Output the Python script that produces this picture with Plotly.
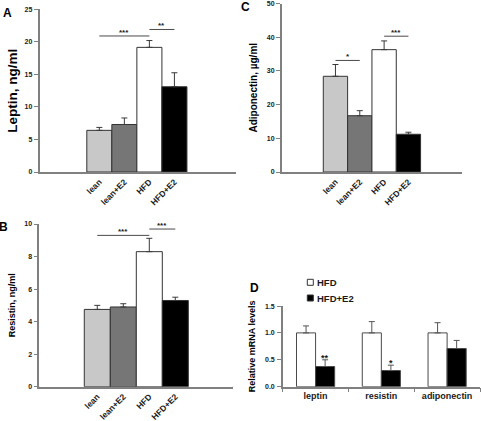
import plotly.graph_objects as go

W, H = 481, 421

# ---------------- data ----------------
groups = ["lean", "lean+E2", "HFD", "HFD+E2"]
group_colors = ["#c8c8c8", "#767676", "#ffffff", "#000000"]

leptin = [6.4, 7.3, 19.15, 13.1]
leptin_err = [0.45, 1.0, 1.05, 2.15]
resistin = [4.75, 4.9, 8.3, 5.3]
resistin_err = [0.25, 0.2, 0.82, 0.2]
adiponectin = [28.4, 16.7, 36.3, 11.2]
adiponectin_err = [3.5, 1.5, 2.6, 0.6]

genes = ["leptin", "resistin", "adiponectin"]
mrna_hfd = [1.0, 1.0, 1.0]
mrna_hfd_err = [0.13, 0.21, 0.19]
mrna_e2 = [0.375, 0.30, 0.71]
mrna_e2_err = [0.125, 0.10, 0.15]
mrna_sig = ["**", "*", ""]
mrna_ticks = [0.0, 0.5, 1.0, 1.5]

# significance brackets: (from group index, to group index, height, label)
sig_A = [(0, 2, 20.9, "***"), (2, 3, 21.9, "**")]
sig_B = [(0, 2, 9.3, "***"), (2, 3, 9.69, "***")]
sig_C = [(0, 1, 33.1, "*"), (2, 3, 40.3, "***")]

FONT = "Arial, Liberation Sans, sans-serif"
AX = "#808080"
TXT = "#1a1a1a"


def px_x(a, b):
    return [a / W, b / W]


def px_y(top, bottom):
    return [(H - bottom) / H, (H - top) / H]


fig = go.Figure()

panels = [
    ("A", leptin, leptin_err, "x", "y", sig_A),
    ("B", resistin, resistin_err, "x2", "y2", sig_B),
    ("C", adiponectin, adiponectin_err, "x3", "y3", sig_C),
]

for name, vals, errs, xa, ya, sig in panels:
    fig.add_trace(go.Bar(
        x=groups, y=vals, width=1,
        marker=dict(color=group_colors, line=dict(color="#333333", width=1)),
        error_y=dict(type="data", array=errs, arrayminus=[0] * len(errs),
                     symmetric=False, color="#3a3a3a", thickness=1, width=3),
        xaxis=xa, yaxis=ya, showlegend=False,
    ))
    for i0, i1, yv, lab in sig:
        fig.add_shape(type="line", xref=xa, yref=ya, x0=i0, x1=i1, y0=yv, y1=yv,
                      line=dict(color="#4a4a4a", width=1))
        fig.add_annotation(xref=xa, yref=ya, x=(i0 + i1) / 2, y=yv, text=lab,
                           showarrow=False, yanchor="bottom", yshift=-3,
                           font=dict(family=FONT, size=8, color=TXT, weight="bold"))
    for xd in (0, 1):
        fig.add_shape(type="line", xref=xa + " domain", yref=ya, x0=xd, x1=xd,
                      ysizemode="pixel", yanchor=0, y0=0, y1=-4,
                      line=dict(color=AX, width=1.5))

# panel D
bargap = 0.42
half = (1 - bargap) / 4
fig.add_trace(go.Bar(
    x=genes, y=mrna_hfd, name="HFD",
    marker=dict(color="#ffffff", line=dict(color="#4a4a4a", width=1)),
    error_y=dict(type="data", array=mrna_hfd_err, arrayminus=[0] * 3,
                 symmetric=False, color="#555555", thickness=1, width=3),
    xaxis="x4", yaxis="y4", showlegend=False,
))
fig.add_trace(go.Bar(
    x=genes, y=mrna_e2, name="HFD+E2",
    marker=dict(color="#000000", line=dict(color="#4a4a4a", width=1)),
    error_y=dict(type="data", array=mrna_e2_err, arrayminus=[0] * 3,
                 symmetric=False, color="#555555", thickness=1, width=3),
    xaxis="x4", yaxis="y4", showlegend=False,
))
for i, lab in enumerate(mrna_sig):
    if lab:
        fig.add_annotation(xref="x4", yref="y4", x=i + half, y=mrna_e2[i] + mrna_e2_err[i],
                           text=lab, showarrow=False, yanchor="bottom", yshift=-5,
                           font=dict(family=FONT, size=9, color=TXT, weight="bold"))

# D value-axis tick labels, placed on the y4 scale
for v in mrna_ticks:
    fig.add_annotation(xref="x4 domain", yref="y4", x=0, y=v, text="%.1f" % v,
                       showarrow=False, xanchor="right", yanchor="middle", xshift=-6,
                       font=dict(family=FONT, size=7, color=TXT, weight="bold"))

legend_items = [("HFD", "#ffffff", 282.3), ("HFD+E2", "#000000", 298.0)]
for lab, col, yc in legend_items:
    fig.add_shape(type="rect", xref="paper", yref="paper",
                  x0=307.3 / W, x1=313.3 / W, y0=(H - yc - 3) / H, y1=(H - yc + 3) / H,
                  fillcolor=col, line=dict(color="#333333", width=1))
    fig.add_annotation(xref="paper", yref="paper", x=315 / W, y=(H - yc) / H,
                       text=lab, showarrow=False, xanchor="left", yanchor="middle",
                       font=dict(family=FONT, size=9.5, color=TXT, weight="bold"))

for lab, xc, yc in [("A", 7.5, 13), ("B", 3.5, 227), ("C", 245.5, 7), ("D", 254, 288)]:
    fig.add_annotation(xref="paper", yref="paper", x=xc / W, y=(H - yc) / H, text=lab,
                       showarrow=False, xanchor="center", yanchor="middle",
                       font=dict(family=FONT, size=12, color="#000000", weight="bold"))

tickf = dict(family=FONT, size=7, color=TXT, weight="bold")
xtickf = dict(family=FONT, size=8.5, color=TXT, weight="bold")


def cat_x(domain, rng):
    return dict(domain=domain, type="category", categoryorder="array", categoryarray=groups,
                range=rng, tickangle=-45, ticks="", showline=True, linecolor=AX, linewidth=1.5,
                tickfont=xtickf, showgrid=False, zeroline=False, fixedrange=True,
                automargin=False, ticklabeloverflow="allow")


def val_y(domain, rng, dtick, title, tsize, standoff):
    return dict(domain=domain, range=rng, dtick=dtick, tick0=0, ticks="outside", ticklen=4,
                tickcolor=AX, showline=True, linecolor=AX, linewidth=1.5, showgrid=False,
                zeroline=False, tickfont=tickf, fixedrange=True, automargin=False,
                ticklabeloverflow="allow",
                title=dict(text=title, standoff=standoff,
                           font=dict(family=FONT, size=tsize, color="#000000", weight="bold")))


fig.update_layout(
    width=W, height=H, margin=dict(l=0, r=0, t=0, b=0, pad=0),
    paper_bgcolor="white", plot_bgcolor="white",
    font=dict(family=FONT, color=TXT),
    barmode="group", bargap=bargap, bargroupgap=0,
    xaxis=dict(cat_x(px_x(39.5, 236), [-2.39, 5.46]), anchor="y"),
    yaxis=dict(val_y(px_y(9.3, 172), [0, 25], 5, "Leptin, ng/ml", 13.5, 4), anchor="x"),
    xaxis2=dict(cat_x(px_x(39.3, 233.3), [-2.23, 5.23]), anchor="y2"),
    yaxis2=dict(val_y(px_y(224, 386.7), [0, 10], 2, "Resistin, ng/ml", 9, 7), anchor="x2"),
    xaxis3=dict(cat_x(px_x(281.7, 461.7), [-2.21, 5.19]), anchor="y3"),
    yaxis3=dict(val_y(px_y(3.5, 172), [0, 50], 10, "Adiponectin, µg/ml", 10, 7), anchor="x3"),
    xaxis4=dict(domain=px_x(282.7, 480), anchor="y4", type="category", range=[-0.5, 2.5],
                ticks="outside", tickson="boundaries", ticklen=4, tickcolor=AX,
                showline=True, linecolor=AX, linewidth=1.5, showgrid=False, zeroline=False,
                fixedrange=True, automargin=False, ticklabeloverflow="allow",
                tickfont=dict(family=FONT, size=9, color=TXT, weight="bold")),
    yaxis4=dict(domain=px_y(306, 386.7), anchor="x4", range=[0, 1.5],
                tickmode="array", tickvals=mrna_ticks, showticklabels=False,
                ticks="outside", ticklen=4, tickcolor=AX, showline=True, linecolor=AX,
                linewidth=1.5, showgrid=False, zeroline=False, fixedrange=True,
                automargin=False,
                title=dict(text="Relative mRNA levels", standoff=20,
                           font=dict(family=FONT, size=9, color="#000000", weight="bold"))),
)

fig.write_html("out.html", config={"displayModeBar": False},
               post_script="document.body.style.margin='0';document.body.style.overflow='hidden';")
